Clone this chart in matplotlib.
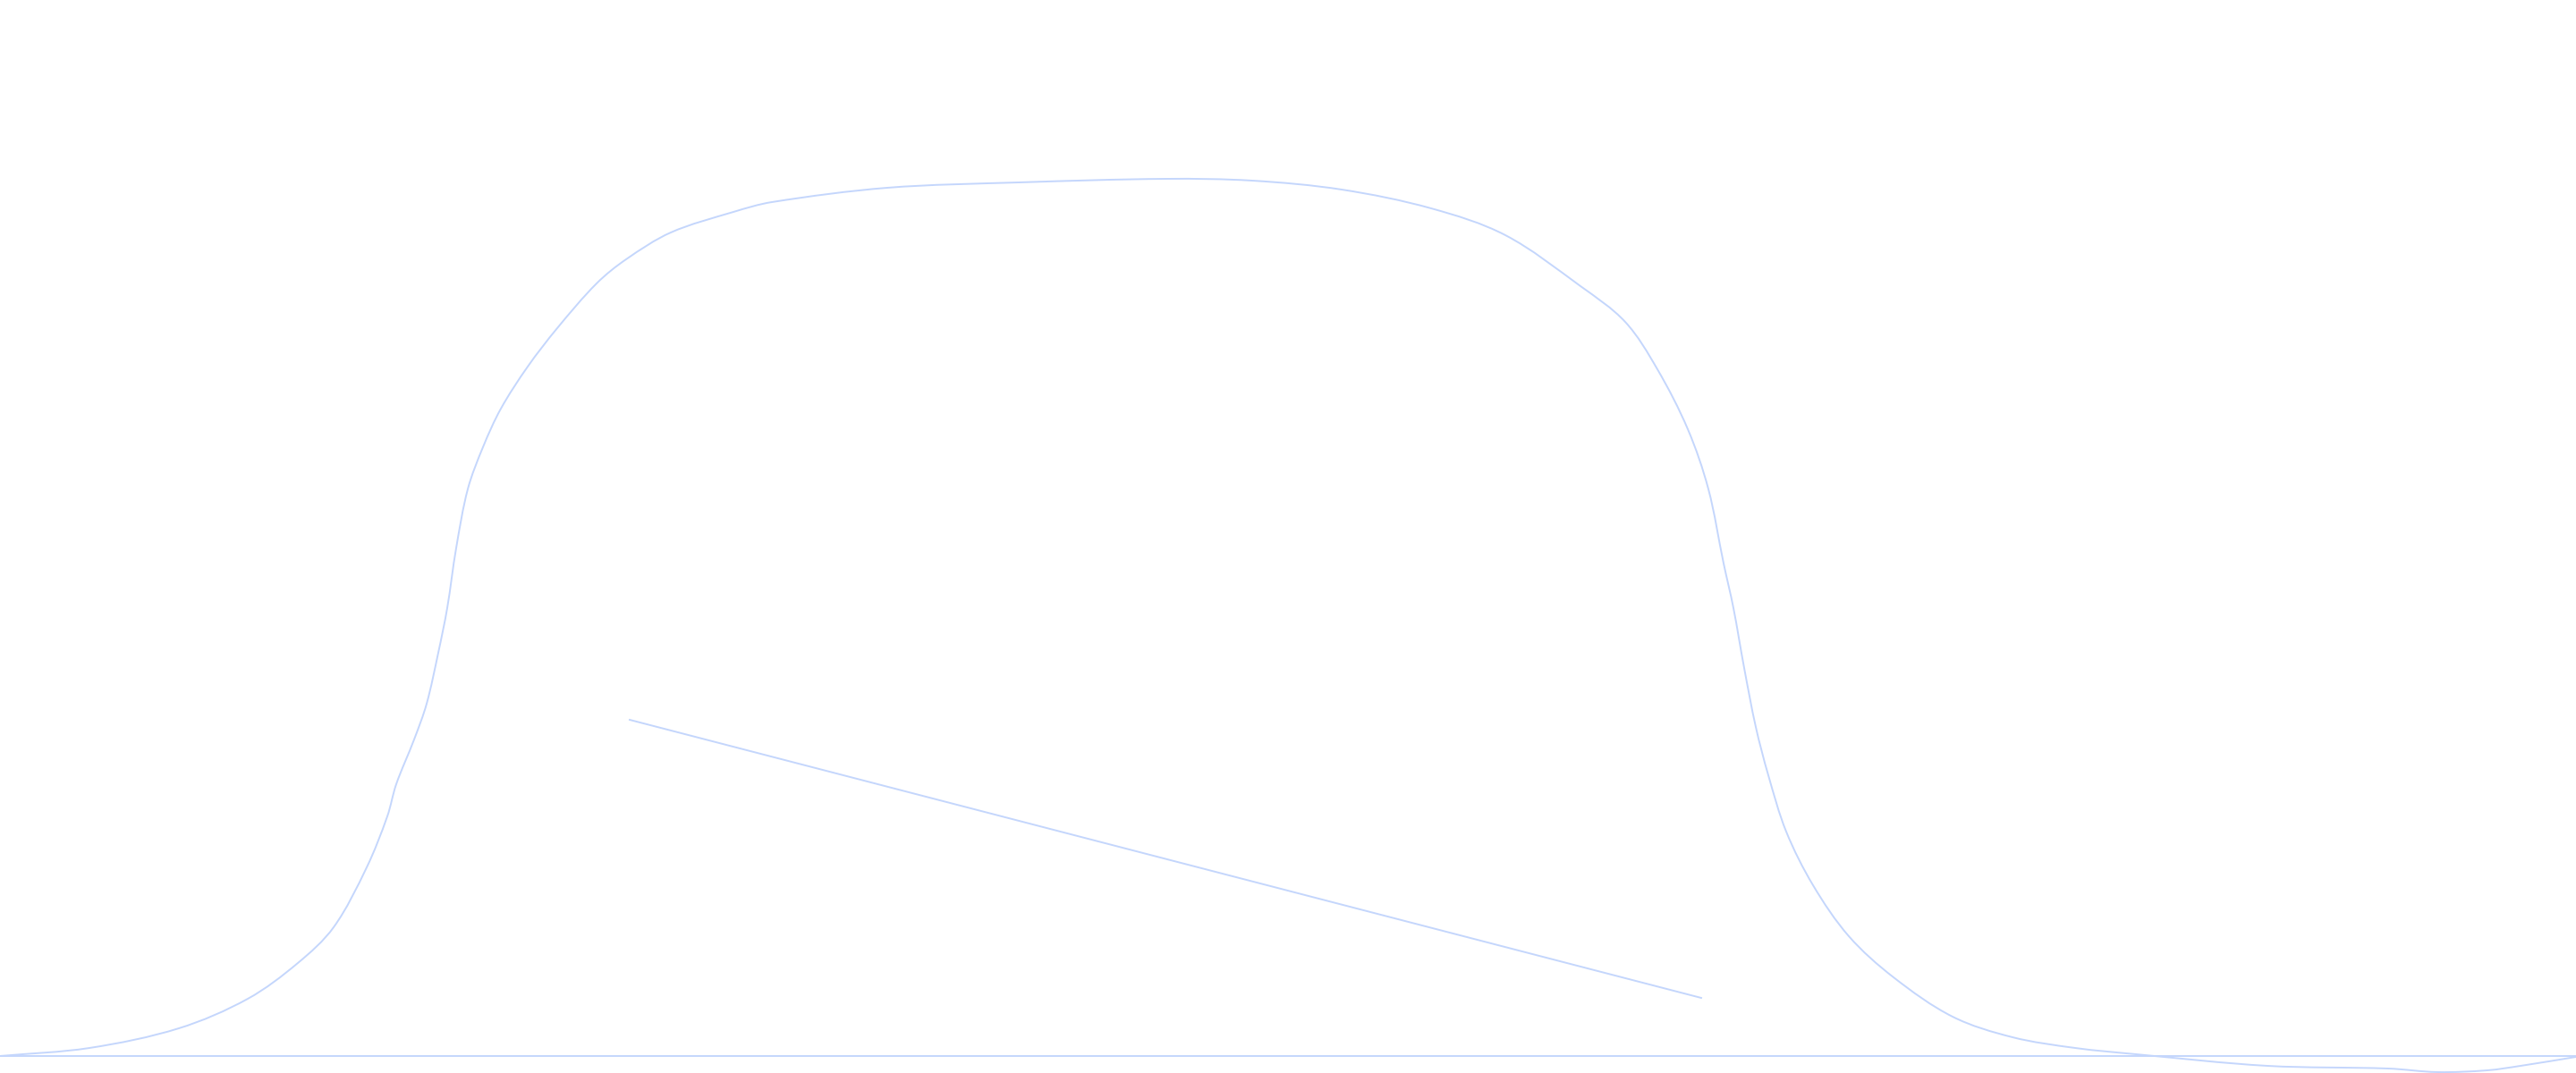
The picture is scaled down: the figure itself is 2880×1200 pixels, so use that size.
import matplotlib
matplotlib.use('Agg')
import matplotlib.pyplot as plt
import numpy as np
from matplotlib.path import Path
from matplotlib.patches import PathPatch

# curve (x position, height above the baseline)
curve_x = [0, 100, 200, 277, 333, 373, 410, 433, 443, 463, 477, 490, 500, 510,
           523, 540, 560, 590, 623, 667, 700, 750, 820, 863, 992, 1139, 1304,
           1400, 1500, 1600, 1683, 1767, 1817, 1853, 1887, 1910, 1927, 1938,
           1950, 1963, 1977, 1997, 2027, 2067, 2117, 2183, 2250, 2320, 2388,
           2535, 2670, 2725, 2781, 2818, 2880]
curve_y = [0, 9, 31, 64, 104, 144, 211, 268, 304, 354, 394, 451, 501, 568,
           634, 681, 724, 771, 814, 864, 891, 921, 944, 955, 971, 977, 981,
           979, 969, 948, 918, 861, 821, 768, 701, 634, 551, 501,
           434, 368, 314, 251, 191, 134, 88, 44, 21, 9, 2,
           -11, -14, -18, -16, -11, -1]

# straight segment
seg_x = [704, 1902]
seg_y = [376, 65]

color = '#c4d6fc'


def smooth_path(xs, ys):
    # bezier path through the points (smooth line rendering)
    p = np.column_stack([xs, ys]).astype(float)
    n = len(p)
    tang = np.zeros_like(p)
    for i in range(n):
        a = p[max(i - 1, 0)]
        b = p[min(i + 1, n - 1)]
        d = b - a
        tang[i] = d / np.hypot(*d)
    verts = [p[0]]
    codes = [Path.MOVETO]
    for i in range(n - 1):
        seg = np.hypot(*(p[i + 1] - p[i]))
        verts += [p[i] + tang[i] * seg / 3, p[i + 1] - tang[i + 1] * seg / 3, p[i + 1]]
        codes += [Path.CURVE4] * 3
    return Path(verts, codes)


fig = plt.figure(figsize=(28.8, 12), dpi=100)
ax = fig.add_axes([0, 0, 1, 1])

ax.add_patch(PathPatch(smooth_path(curve_x, curve_y), facecolor='none',
                       edgecolor=color, linewidth=1.4))
ax.plot(seg_x, seg_y, color=color, linewidth=1.4)
ax.axhline(0, color=color, linewidth=1.4)

ax.set_xlim(0, 2880)
ax.set_ylim(-19, 1181)
ax.axis('off')

plt.savefig('out.png', dpi=100, facecolor='white')
